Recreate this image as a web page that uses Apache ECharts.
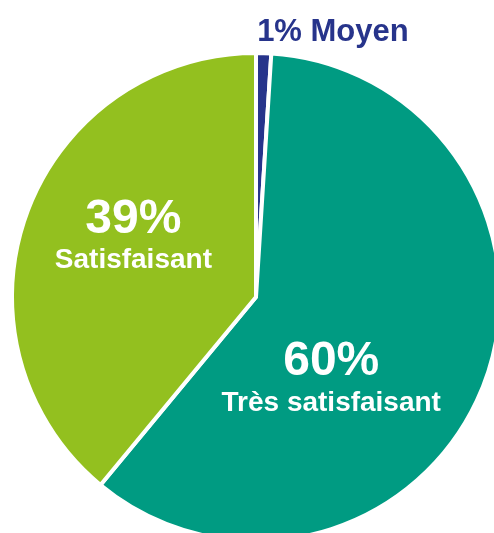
<!DOCTYPE html>
<html>
<head>
<meta charset="utf-8">
<script src="https://cdn.jsdelivr.net/npm/echarts@6/dist/echarts.min.js"></script>
<style>
  html, body { margin: 0; padding: 0; background: #fff; }
  #chart { width: 494px; height: 533px; }
</style>
</head>
<body>
<div id="chart"></div>
<script>
// données
var categories = ['Moyen', 'Très satisfaisant', 'Satisfaisant']
var values = [1, 60, 39]
var colors = ['#27348b', '#009b82', '#93c01f']

// décalage des étiquettes (par index)
var labelShift = [
  { dx: 73, dy: -140 },
  { dx: -41, dy: 37 },
  { dx: -5, dy: -17 }
]

var chart = echarts.init(document.getElementById('chart'), null, { renderer: 'canvas' })

var data = categories.map(function (name, i) {
  var item = {
    name: name,
    value: values[i],
    itemStyle: { color: colors[i] }
  }
  if (i === 0) {
    item.label = {
      formatter: '{b|{c}% ' + name + '}',
      rich: {
        b: { fontSize: 31, fontWeight: 'bold', color: '#27348b', fontFamily: 'Liberation Sans, Arial, sans-serif' }
      }
    }
  }
  return item
})

chart.setOption({
  animation: false,
  series: [{
    type: 'pie',
    center: [256, 297],
    radius: [0, 244],
    startAngle: 90,
    clockwise: true,
    avoidLabelOverlap: false,
    itemStyle: { borderColor: '#fff', borderWidth: 4 },
    labelLine: { show: false },
    label: {
      show: true,
      position: 'inside',
      formatter: '{p|{c}%}\n{n|{b}}',
      rich: {
        p: { fontSize: 48, fontWeight: 'bold', color: '#fff', lineHeight: 46, fontFamily: 'Liberation Sans, Arial, sans-serif' },
        n: { fontSize: 28, fontWeight: 'bold', color: '#fff', lineHeight: 36, fontFamily: 'Liberation Sans, Arial, sans-serif' }
      }
    },
    labelLayout: function (params) {
      return labelShift[params.dataIndex]
    },
    data: data
  }]
})
</script>
</body>
</html>
